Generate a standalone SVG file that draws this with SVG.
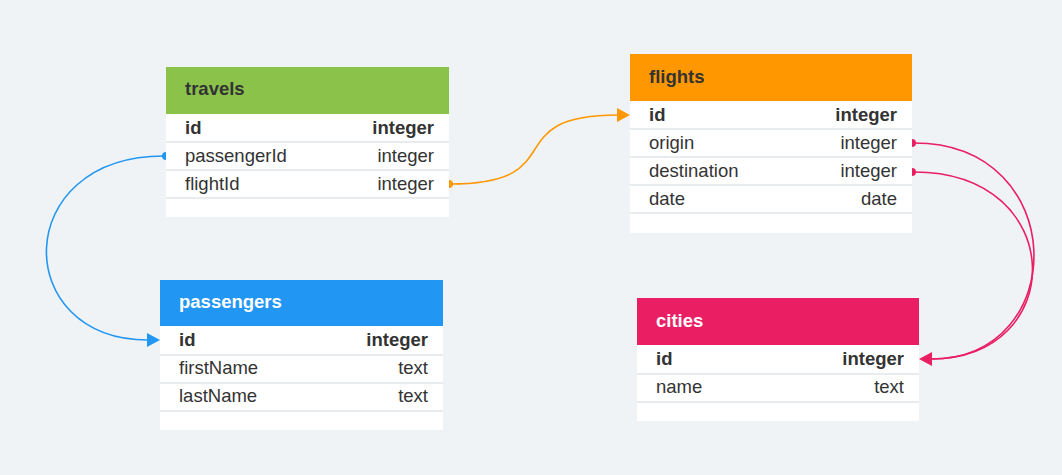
<svg xmlns="http://www.w3.org/2000/svg" width="1062" height="475" viewBox="0 0 1062 475">
<style>
.bg{fill:#eff3f6}
.body{fill:#ffffff}
.sep{stroke:#e9ecef;stroke-width:2}
.t{font-family:"Liberation Sans",Arial,sans-serif;font-size:18.5px;fill:#333333}
.b{font-weight:bold}
.r{text-anchor:end}
.w{fill:#ffffff}
.conn{fill:none;stroke-width:1.6}
</style>
<rect class="bg" x="0" y="0" width="1062" height="475"/>

<g id="travels">
<rect class="body" x="166" y="114" width="283" height="103"/>
<rect x="166" y="67" width="283" height="47" fill="#8bc34a"/>
<line class="sep" x1="166" y1="142" x2="449" y2="142"/>
<line class="sep" x1="166" y1="170" x2="449" y2="170"/>
<line class="sep" x1="166" y1="198" x2="449" y2="198"/>
<text class="t b" x="185" y="95">travels</text>
<text class="t b" x="185" y="134">id</text><text class="t b r" x="434" y="134">integer</text>
<text class="t" x="185" y="162">passengerId</text><text class="t r" x="434" y="162">integer</text>
<text class="t" x="185" y="190">flightId</text><text class="t r" x="434" y="190">integer</text>
</g>

<g id="flights">
<rect class="body" x="630" y="101" width="282" height="132"/>
<rect x="630" y="54" width="282" height="47" fill="#ff9800"/>
<line class="sep" x1="630" y1="129" x2="912" y2="129"/>
<line class="sep" x1="630" y1="157" x2="912" y2="157"/>
<line class="sep" x1="630" y1="185" x2="912" y2="185"/>
<line class="sep" x1="630" y1="213" x2="912" y2="213"/>
<text class="t b" x="649" y="83">flights</text>
<text class="t b" x="649" y="121">id</text><text class="t b r" x="897" y="121">integer</text>
<text class="t" x="649" y="149">origin</text><text class="t r" x="897" y="149">integer</text>
<text class="t" x="649" y="177">destination</text><text class="t r" x="897" y="177">integer</text>
<text class="t" x="649" y="205">date</text><text class="t r" x="897" y="205">date</text>
</g>

<g id="passengers">
<rect class="body" x="160" y="326" width="283" height="104"/>
<rect x="160" y="280" width="283" height="46" fill="#2196f3"/>
<line class="sep" x1="160" y1="355" x2="443" y2="355"/>
<line class="sep" x1="160" y1="383" x2="443" y2="383"/>
<line class="sep" x1="160" y1="411" x2="443" y2="411"/>
<text class="t b w" x="179" y="308">passengers</text>
<text class="t b" x="179" y="346">id</text><text class="t b r" x="428" y="346">integer</text>
<text class="t" x="179" y="374">firstName</text><text class="t r" x="428" y="374">text</text>
<text class="t" x="179" y="402">lastName</text><text class="t r" x="428" y="402">text</text>
</g>

<g id="cities">
<rect class="body" x="637" y="345" width="282" height="76"/>
<rect x="637" y="298" width="282" height="47" fill="#e91e63"/>
<line class="sep" x1="637" y1="374" x2="919" y2="374"/>
<line class="sep" x1="637" y1="402" x2="919" y2="402"/>
<text class="t b w" x="656" y="327">cities</text>
<text class="t b" x="656" y="365">id</text><text class="t b r" x="904" y="365">integer</text>
<text class="t" x="656" y="393">name</text><text class="t r" x="904" y="393">text</text>
</g>

<g id="connectors">
<path class="conn" stroke="#2196f3" d="M164,156 C10,156 10,340 148,340"/>
<path d="M166,152 A4,4 0 0 0 166,160 Z" fill="#2196f3"/>
<path d="M147,333 L160,340 L147,347 Z" fill="#2196f3"/>
<path class="conn" stroke="#ff9800" d="M450,184 C575,184 495,115 618,115"/>
<path d="M449,180 A4,4 0 0 1 449,188 Z" fill="#ff9800"/>
<path d="M617,108 L630,115 L617,122 Z" fill="#ff9800"/>
<path class="conn" stroke="#e91e63" d="M914,143 C1071,143 1071,359 931,359"/>
<path d="M912,139 A4,4 0 0 1 912,147 Z" fill="#e91e63"/>
<path class="conn" stroke="#e91e63" d="M914,172 C1069,172 1069,359 931,359"/>
<path d="M912,168 A4,4 0 0 1 912,176 Z" fill="#e91e63"/>
<path d="M932,352 L919,359 L932,366 Z" fill="#e91e63"/>
</g>
</svg>
